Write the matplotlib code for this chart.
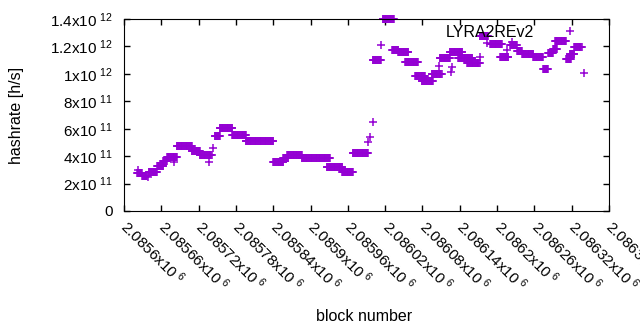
import matplotlib
matplotlib.use("Agg")
import matplotlib.pyplot as plt
from matplotlib.ticker import FuncFormatter, MultipleLocator
import numpy as np

plt.rcParams['font.family'] = ['Liberation Sans', 'DejaVu Sans']
plt.rcParams['mathtext.default'] = 'regular'

# runs of blocks with the same hashrate (first block, last block, hashrate in h/s)
run_start = [2085622, 2085621, 2085629, 2085639, 2085640, 2085653, 2085663, 2085669,
             2085680, 2085685, 2085709, 2085722, 2085737, 2085743, 2085746, 2085754,
             2085774, 2085796, 2085840, 2085856, 2085862, 2085886, 2085926, 2085951,
             2085968, 2085992, 2085996, 2086000, 2086000, 2086013, 2086016, 2086031,
             2086041, 2086052, 2086068, 2086079, 2086095, 2086107, 2086108, 2086126,
             2086127, 2086124, 2086137, 2086152, 2086172, 2086172, 2086184, 2086189,
             2086205, 2086216, 2086224, 2086221, 2086232, 2086240, 2086258, 2086274,
             2086282, 2086290, 2086293, 2086311, 2086317, 2086324, 2086340]
run_end = [2085622, 2085629, 2085637, 2085639, 2085653, 2085663, 2085669, 2085685,
           2085680, 2085709, 2085722, 2085741, 2085737, 2085743, 2085754, 2085774,
           2085796, 2085840, 2085856, 2085864, 2085886, 2085931, 2085951, 2085968,
           2085992, 2085992, 2085996, 2086000, 2086013, 2086013, 2086034, 2086041,
           2086057, 2086073, 2086084, 2086097, 2086111, 2086107, 2086124, 2086126,
           2086127, 2086144, 2086160, 2086172, 2086172, 2086185, 2086184, 2086208,
           2086218, 2086216, 2086224, 2086232, 2086240, 2086258, 2086274, 2086282,
           2086290, 2086296, 2086311, 2086319, 2086324, 2086336, 2086340]
run_value = [2.99e11, 2.77e11, 2.58e11, 2.48e11, 2.84e11, 3.28e11, 3.65e11, 3.94e11,
             3.57e11, 4.74e11, 4.38e11, 4.08e11, 3.57e11, 4.59e11, 5.47e11, 6.05e11,
             5.54e11, 5.10e11, 3.57e11, 3.86e11, 4.08e11, 3.86e11, 3.21e11, 2.84e11,
             4.23e11, 5.03e11, 5.40e11, 6.49e11, 11.01e11, 12.10e11, 14.0e11, 11.74e11,
             11.59e11, 10.87e11, 9.84e11, 9.48e11, 9.99e11, 10.57e11, 11.16e11, 10.14e11,
             10.50e11, 11.59e11, 11.16e11, 10.79e11, 11.23e11, 12.76e11, 12.25e11, 12.18e11,
             11.23e11, 11.74e11, 12.32e11, 12.10e11, 11.67e11, 11.45e11, 11.23e11, 10.35e11,
             11.52e11, 11.81e11, 12.40e11, 11.08e11, 11.45e11, 11.96e11, 10.06e11]

blocks = []
rates = []
for s, e, v in zip(run_start, run_end, run_value):
    for b in range(s, e + 1):
        blocks.append(b)
        rates.append(v)


def sci(v, pos):
    if v == 0:
        return '0'
    exp = int(np.floor(np.log10(abs(v)) + 1e-9))
    mant = ('%.6f' % (v / 10 ** exp)).rstrip('0').rstrip('.')
    return mant + 'x10$^{\\ %d}$' % exp


fig = plt.figure(figsize=(6.4, 3.3), dpi=100)
ax = fig.add_axes([124 / 640, 1 - 211 / 330, 485 / 640, 192 / 330])

ax.plot(blocks, rates, linestyle='none', marker='+', markersize=5.5,
        markeredgewidth=1.1, color='#9400d3', label='LYRA2REv2', clip_on=False)

ax.set_xlim(2085600, 2086380)
ax.set_ylim(0, 1.4e12)
ax.xaxis.set_major_locator(MultipleLocator(60))
ax.yaxis.set_major_locator(MultipleLocator(2e11))
ax.xaxis.set_major_formatter(FuncFormatter(sci))
ax.yaxis.set_major_formatter(FuncFormatter(sci))
ax.tick_params(direction='in', top=True, right=True, length=4, width=1,
               labelsize=11, colors='black')
ax.tick_params(axis='y', pad=8)
ax.tick_params(axis='x', pad=9)
for lab in ax.get_xticklabels():
    lab.set_rotation(-45)
    lab.set_ha('left')
    lab.set_va('center')
    lab.set_rotation_mode('anchor')

ax.set_xlabel('block number', fontsize=11.5)
ax.set_ylabel('hashrate [h/s]', fontsize=11.5)
ax.xaxis.set_label_coords(0.495, -0.51)
ax.yaxis.set_label_coords(-0.206, 0.5)

ax.legend(loc='upper right', bbox_to_anchor=(0.964, 1.02), frameon=False,
          markerfirst=False, fontsize=11.5, handlelength=1.5, handletextpad=1.5,
          borderaxespad=0.2)

fig.savefig('out.png', dpi=100)
